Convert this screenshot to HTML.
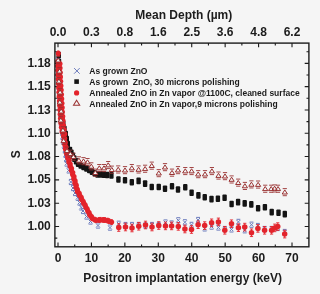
<!DOCTYPE html>
<html><head><meta charset="utf-8"><style>
html,body{margin:0;padding:0;background:#f5f5f5;}
svg{display:block;will-change:transform;}
text{font-family:"Liberation Sans",sans-serif;font-weight:bold;fill:#1c1c1c;}
</style></head><body>
<svg width="320" height="294" viewBox="0 0 320 294">
<g>
<rect width="320" height="294" fill="#f5f5f5"/>
<path d="M58 246.8V242.6M58 43.1V47.3M74.72 246.8V244.4M74.72 43.1V45.5M91.43 246.8V242.6M91.43 43.1V47.3M108.14 246.8V244.4M108.14 43.1V45.5M124.86 246.8V242.6M124.86 43.1V47.3M141.57 246.8V244.4M141.57 43.1V45.5M158.29 246.8V242.6M158.29 43.1V47.3M175 246.8V244.4M175 43.1V45.5M191.72 246.8V242.6M191.72 43.1V47.3M208.44 246.8V244.4M208.44 43.1V45.5M225.15 246.8V242.6M225.15 43.1V47.3M241.87 246.8V244.4M241.87 43.1V45.5M258.58 246.8V242.6M258.58 43.1V47.3M275.29 246.8V244.4M275.29 43.1V45.5M292.01 246.8V242.6M292.01 43.1V47.3M54.9 238.15H57.3M308.9 238.15H306.5M54.9 226.5H59.1M308.9 226.5H304.7M54.9 214.85H57.3M308.9 214.85H306.5M54.9 203.19H59.1M308.9 203.19H304.7M54.9 191.53H57.3M308.9 191.53H306.5M54.9 179.88H59.1M308.9 179.88H304.7M54.9 168.22H57.3M308.9 168.22H306.5M54.9 156.57H59.1M308.9 156.57H304.7M54.9 144.91H57.3M308.9 144.91H306.5M54.9 133.26H59.1M308.9 133.26H304.7M54.9 121.6H57.3M308.9 121.6H306.5M54.9 109.95H59.1M308.9 109.95H304.7M54.9 98.29H57.3M308.9 98.29H306.5M54.9 86.64H59.1M308.9 86.64H304.7M54.9 74.98H57.3M308.9 74.98H306.5M54.9 63.33H59.1M308.9 63.33H304.7M54.9 51.68H57.3M308.9 51.68H306.5" stroke="#1c1c1c" stroke-width="1.1" fill="none"/>
<g><path d="M56.3 54.1L60.1 57.9M56.3 57.9L60.1 54.1M56.3 53.4H60.1M56.3 58.6H60.1M56.41 58.6L60.21 62.4M56.41 62.4L60.21 58.6M56.41 57.9H60.21M56.41 63.1H60.21M56.52 63.1L60.32 66.9M56.52 66.9L60.32 63.1M56.52 62.4H60.32M56.52 67.6H60.32M56.64 67.6L60.44 71.4M56.64 71.4L60.44 67.6M56.64 66.9H60.44M56.64 72.1H60.44M56.75 72.09L60.55 75.89M56.75 75.89L60.55 72.09M56.75 71.39H60.55M56.75 76.59H60.55M56.86 76.59L60.66 80.39M56.86 80.39L60.66 76.59M56.86 75.89H60.66M56.86 81.09H60.66M56.97 81.09L60.77 84.89M56.97 84.89L60.77 81.09M56.97 80.39H60.77M56.97 85.59H60.77M57.09 85.59L60.89 89.39M57.09 89.39L60.89 85.59M57.09 84.89H60.89M57.09 90.09H60.89M57.27 90.09L61.07 93.89M57.27 93.89L61.07 90.09M57.27 89.39H61.07M57.27 94.59H61.07M57.47 94.58L61.27 98.38M57.47 98.38L61.27 94.58M57.47 93.88H61.27M57.47 99.08H61.27M57.67 99.08L61.47 102.88M57.67 102.88L61.47 99.08M57.67 98.38H61.47M57.67 103.58H61.47M57.9 103.57L61.7 107.37M57.9 107.37L61.7 103.57M57.9 102.87H61.7M57.9 108.07H61.7M58.21 108.06L62.01 111.86M58.21 111.86L62.01 108.06M58.21 107.36H62.01M58.21 112.56H62.01M58.52 112.55L62.32 116.35M58.52 116.35L62.32 112.55M58.52 111.85H62.32M58.52 117.05H62.32M58.83 117.04L62.63 120.84M58.83 120.84L62.63 117.04M58.83 116.34H62.63M58.83 121.54H62.63M59.22 121.52L63.02 125.32M59.22 125.32L63.02 121.52M59.22 120.82H63.02M59.22 126.02H63.02M59.64 126L63.44 129.8M59.64 129.8L63.44 126M59.64 125.3H63.44M59.64 130.5H63.44M60.06 130.48L63.86 134.28M60.06 134.28L63.86 130.48M60.06 129.78H63.86M60.06 134.98H63.86M60.61 134.95L64.41 138.75M60.61 138.75L64.41 134.95M60.61 134.25H64.41M60.61 139.45H64.41M61.35 139.38L65.15 143.18M61.35 143.18L65.15 139.38M61.35 138.68H65.15M61.35 143.88H65.15M62.1 143.82L65.9 147.62M62.1 147.62L65.9 143.82M62.1 143.12H65.9M62.1 148.32H65.9M62.84 148.26L66.64 152.06M62.84 152.06L66.64 148.26M62.84 147.56H66.64M62.84 152.76H66.64M63.5 152.71L67.3 156.51M63.5 156.51L67.3 152.71M63.5 152.01H67.3M63.5 157.21H67.3M64.14 157.17L67.94 160.97M64.14 160.97L67.94 157.17M64.14 156.47H67.94M64.14 161.67H67.94M64.79 161.62L68.59 165.42M64.79 165.42L68.59 161.62M64.79 160.92H68.59M64.79 166.12H68.59M66.8 168.5L70.6 172.3M66.8 172.3L70.6 168.5M66.8 167.8H70.6M66.8 173H70.6M68.9 180.1L72.7 183.9M68.9 183.9L72.7 180.1M68.9 179.4H72.7M68.9 184.6H72.7M71.1 186.1L74.9 189.9M71.1 189.9L74.9 186.1M71.1 185.4H74.9M71.1 190.6H74.9M73.1 191.1L76.9 194.9M73.1 194.9L76.9 191.1M73.1 190.4H76.9M73.1 195.6H76.9M75.8 195.8L79.6 199.6M75.8 199.6L79.6 195.8M75.8 195.1H79.6M75.8 200.3H79.6M77.6 200.6L81.4 204.4M77.6 204.4L81.4 200.6M77.6 199.9H81.4M77.6 205.1H81.4M79.3 205.5L83.1 209.3M79.3 209.3L83.1 205.5M79.3 204.8H83.1M79.3 210H83.1M81.1 209.1L84.9 212.9M81.1 212.9L84.9 209.1M81.1 208.4H84.9M81.1 213.6H84.9M84.6 214.6L88.4 218.4M84.6 218.4L88.4 214.6M84.6 213.9H88.4M84.6 219.1H88.4M88.6 219.6L92.4 223.4M88.6 223.4L92.4 219.6M88.6 218.9H92.4M88.6 224.1H92.4M96.1 223.6L99.9 227.4M96.1 227.4L99.9 223.6M96.1 222.9H99.9M96.1 228.1H99.9M108.1 225.7L111.9 229.5M108.1 229.5L111.9 225.7M108.1 225H111.9M108.1 230.2H111.9M116.85 221.85L120.65 225.65M116.85 225.65L120.65 221.85M116.85 221.15H120.65M116.85 226.35H120.65M123.6 223.1L127.4 226.9M123.6 226.9L127.4 223.1M123.6 222.4H127.4M123.6 227.6H127.4M130.1 223.1L133.9 226.9M130.1 226.9L133.9 223.1M130.1 222.4H133.9M130.1 227.6H133.9M136.85 223.1L140.65 226.9M136.85 226.9L140.65 223.1M136.85 222.4H140.65M136.85 227.6H140.65M143.6 223.6L147.4 227.4M143.6 227.4L147.4 223.6M143.6 222.9H147.4M143.6 228.1H147.4M150.1 223.1L153.9 226.9M150.1 226.9L153.9 223.1M150.1 222.4H153.9M150.1 227.6H153.9M156.85 223.1L160.65 226.9M156.85 226.9L160.65 223.1M156.85 222.4H160.65M156.85 227.6H160.65M163.6 220.6L167.4 224.4M163.6 224.4L167.4 220.6M163.6 219.9H167.4M163.6 225.1H167.4M169.7 221.6L173.5 225.4M169.7 225.4L173.5 221.6M169.7 220.9H173.5M169.7 226.1H173.5M176.4 218.4L180.2 222.2M176.4 222.2L180.2 218.4M176.4 217.7H180.2M176.4 222.9H180.2M183 220.4L186.8 224.2M183 224.2L186.8 220.4M183 219.7H186.8M183 224.9H186.8M189.6 223L193.4 226.8M189.6 226.8L193.4 223M189.6 222.3H193.4M189.6 227.5H193.4M196.2 218.1L200 221.9M196.2 221.9L200 218.1M196.2 217.4H200M196.2 222.6H200M202.8 226.5L206.6 230.3M202.8 230.3L206.6 226.5M202.8 225.8H206.6M202.8 231H206.6M209.7 224.7L213.5 228.5M209.7 228.5L213.5 224.7M209.7 224H213.5M209.7 229.2H213.5M216.5 225.6L220.3 229.4M216.5 229.4L220.3 225.6M216.5 224.9H220.3M216.5 230.1H220.3M222.9 227.1L226.7 230.9M222.9 230.9L226.7 227.1M222.9 226.4H226.7M222.9 231.6H226.7M229.6 227.5L233.4 231.3M229.6 231.3L233.4 227.5M229.6 226.8H233.4M229.6 232H233.4M236.5 220L240.3 223.8M236.5 223.8L240.3 220M236.5 219.3H240.3M236.5 224.5H240.3M242.85 228.4L246.65 232.2M242.85 232.2L246.65 228.4M242.85 227.7H246.65M242.85 232.9H246.65M249.6 222.8L253.4 226.6M249.6 226.6L253.4 222.8M249.6 222.1H253.4M249.6 227.3H253.4M256 224.1L259.8 227.9M256 227.9L259.8 224.1M256 223.4H259.8M256 228.6H259.8M262.7 227.1L266.5 230.9M262.7 230.9L266.5 227.1M262.7 226.4H266.5M262.7 231.6H266.5M269.7 227.1L273.5 230.9M269.7 230.9L273.5 227.1M269.7 226.4H273.5M269.7 231.6H273.5M275.85 226.1L279.65 229.9M275.85 229.9L279.65 226.1M275.85 225.4H279.65M275.85 230.6H279.65M282.8 230.1L286.6 233.9M282.8 233.9L286.6 230.1M282.8 229.4H286.6M282.8 234.6H286.6" stroke="#6a7abc" stroke-width="1" fill="none"/><g fill="#141414"><rect x="56.6" y="51.7" width="4.4" height="6.6" rx="1"/><rect x="56.8" y="58.7" width="4.4" height="6.6" rx="1"/><rect x="57.1" y="66.7" width="4.4" height="6.6" rx="1"/><rect x="57.5" y="74.7" width="4.4" height="6.6" rx="1"/><rect x="57.9" y="82.7" width="4.4" height="6.6" rx="1"/><rect x="58.3" y="90.7" width="4.4" height="6.6" rx="1"/><rect x="58.8" y="98.7" width="4.4" height="6.6" rx="1"/><rect x="59.4" y="106.7" width="4.4" height="6.6" rx="1"/><rect x="60.2" y="114.7" width="4.4" height="6.6" rx="1"/><rect x="61.1" y="120.7" width="4.4" height="6.6" rx="1"/><rect x="62.3" y="125.7" width="4.4" height="6.6" rx="1"/><rect x="63.6" y="130.7" width="4.4" height="6.6" rx="1"/><rect x="64.6" y="135.7" width="4.4" height="6.6" rx="1"/><rect x="65.6" y="140.7" width="4.4" height="6.6" rx="1"/><rect x="67.8" y="146.7" width="4.4" height="6.6" rx="1"/><rect x="69.23" y="149.56" width="4.4" height="6.6" rx="1"/><rect x="70.66" y="152.42" width="4.4" height="6.6" rx="1"/><rect x="72.09" y="155.29" width="4.4" height="6.6" rx="1"/><rect x="73.8" y="157.97" width="4.4" height="6.6" rx="1"/><rect x="75.79" y="160.48" width="4.4" height="6.6" rx="1"/><rect x="78.44" y="162.26" width="4.4" height="6.6" rx="1"/><rect x="81.28" y="163.74" width="4.4" height="6.6" rx="1"/><rect x="84.15" y="165.16" width="4.4" height="6.6" rx="1"/><rect x="87.02" y="166.56" width="4.4" height="6.6" rx="1"/><rect x="89.72" y="168.29" width="4.4" height="6.6" rx="1"/><rect x="92.41" y="170.01" width="4.4" height="6.6" rx="1"/><rect x="95.27" y="171.2" width="4.4" height="6.6" rx="1"/><rect x="98.47" y="171.2" width="4.4" height="6.6" rx="1"/><rect x="101.66" y="171.38" width="4.4" height="6.6" rx="1"/><rect x="104.85" y="171.68" width="4.4" height="6.6" rx="1"/><rect x="109.2" y="172.1" width="4.4" height="6.6" rx="1"/><rect x="116.2" y="176.2" width="4.4" height="6.6" rx="1"/><rect x="122.8" y="176.9" width="4.4" height="6.6" rx="1"/><rect x="129.6" y="178.9" width="4.4" height="6.6" rx="1"/><rect x="136.4" y="177.6" width="4.4" height="6.6" rx="1"/><rect x="142.9" y="180.3" width="4.4" height="6.6" rx="1"/><rect x="149.55" y="183.7" width="4.4" height="6.6" rx="1"/><rect x="156.55" y="183.7" width="4.4" height="6.6" rx="1"/><rect x="162.8" y="185.45" width="4.4" height="6.6" rx="1"/><rect x="169.8" y="182.95" width="4.4" height="6.6" rx="1"/><rect x="175.8" y="186.2" width="4.4" height="6.6" rx="1"/><rect x="183.05" y="183.9" width="4.4" height="6.6" rx="1"/><rect x="189.4" y="189.5" width="4.4" height="6.6" rx="1"/><rect x="196.2" y="192.1" width="4.4" height="6.6" rx="1"/><rect x="202.55" y="193.95" width="4.4" height="6.6" rx="1"/><rect x="209.3" y="195.8" width="4.4" height="6.6" rx="1"/><rect x="215.7" y="195.45" width="4.4" height="6.6" rx="1"/><rect x="222.4" y="194.5" width="4.4" height="6.6" rx="1"/><rect x="229.4" y="200.7" width="4.4" height="6.6" rx="1"/><rect x="235.9" y="198.8" width="4.4" height="6.6" rx="1"/><rect x="242.5" y="200.1" width="4.4" height="6.6" rx="1"/><rect x="249.1" y="201.1" width="4.4" height="6.6" rx="1"/><rect x="255.9" y="204.9" width="4.4" height="6.6" rx="1"/><rect x="262.7" y="204" width="4.4" height="6.6" rx="1"/><rect x="269.5" y="208.8" width="4.4" height="6.6" rx="1"/><rect x="276.3" y="209.5" width="4.4" height="6.6" rx="1"/><rect x="282.6" y="210.8" width="4.4" height="6.6" rx="1"/></g><path d="M58.3 51V55.8M57.2 51H59.4M57.2 55.8H59.4M57.58 59.1V63.9M56.48 59.1H58.68M56.48 63.9H58.68M60.02 61.3V66.1M58.91 61.3H61.12M58.91 66.1H61.12M57.58 63.5V68.3M56.48 63.5H58.68M56.48 68.3H58.68M60.1 65.7V70.5M59 65.7H61.2M59 70.5H61.2M57.77 67.9V72.7M56.67 67.9H58.87M56.67 72.7H58.87M60.29 70.09V74.89M59.19 70.09H61.39M59.19 74.89H61.39M57.96 72.29V77.09M56.86 72.29H59.06M56.86 77.09H59.06M60.48 74.49V79.29M59.38 74.49H61.58M59.38 79.29H61.58M58.15 76.69V81.49M57.05 76.69H59.25M57.05 81.49H59.25M60.69 78.88V83.68M59.59 78.88H61.79M59.59 83.68H61.79M58.39 81.08V85.88M57.29 81.08H59.49M57.29 85.88H59.49M60.96 83.28V88.08M59.86 83.28H62.06M59.86 88.08H62.06M58.66 85.47V90.27M57.56 85.47H59.76M57.56 90.27H59.76M61.22 87.67V92.47M60.12 87.67H62.32M60.12 92.47H62.32M58.91 89.87V94.67M57.81 89.87H60.01M57.81 94.67H60.01M61.47 92.06V96.86M60.37 92.06H62.57M60.37 96.86H62.57M59.17 94.26V99.06M58.07 94.26H60.27M58.07 99.06H60.27M61.72 96.45V101.25M60.62 96.45H62.82M60.62 101.25H62.82M59.42 98.65V103.45M58.32 98.65H60.52M58.32 103.45H60.52M61.97 100.85V105.65M60.87 100.85H63.07M60.87 105.65H63.07M59.66 103.04V107.84M58.56 103.04H60.76M58.56 107.84H60.76M62.21 105.24V110.04M61.11 105.24H63.31M61.11 110.04H63.31M59.9 107.44V112.24M58.8 107.44H61M58.8 112.24H61M62.45 109.63V114.43M61.35 109.63H63.55M61.35 114.43H63.55M60.14 111.83V116.63M59.04 111.83H61.24M59.04 116.63H61.24M62.74 114.02V118.82M61.64 114.02H63.84M61.64 118.82H63.84M60.49 116.22V121.02M59.39 116.22H61.59M59.39 121.02H61.59M63.11 118.41V123.21M62.01 118.41H64.21M62.01 123.21H64.21M60.87 120.6V125.4M59.77 120.6H61.97M59.77 125.4H61.97M63.49 122.79V127.59M62.39 122.79H64.59M62.39 127.59H64.59M61.39 124.97V129.77M60.29 124.97H62.49M60.29 129.77H62.49M64.15 127.14V131.94M63.05 127.14H65.25M63.05 131.94H65.25M62.04 129.32V134.12M60.94 129.32H63.14M60.94 134.12H63.14M64.8 131.49V136.29M63.7 131.49H65.9M63.7 136.29H65.9M63.46 133.67V138.47M62.36 133.67H64.56M62.36 138.47H64.56M64.69 135.85V140.65M63.59 135.85H65.79M63.59 140.65H65.79M64.11 138.02V142.82M63.01 138.02H65.21M63.01 142.82H65.21M65.34 140.2V145M64.24 140.2H66.44M64.24 145H66.44M64.77 142.37V147.17M63.67 142.37H65.87M63.67 147.17H65.87M65.99 144.55V149.35M64.89 144.55H67.09M64.89 149.35H67.09M65.42 146.72V151.52M64.32 146.72H66.52M64.32 151.52H66.52M66.8 148.87V153.67M65.7 148.87H67.9M65.7 153.67H67.9M66.47 150.99V155.79M65.37 150.99H67.57M65.37 155.79H67.57M67.95 153.11V157.91M66.85 153.11H69.05M66.85 157.91H69.05M67.63 155.24V160.04M66.53 155.24H68.73M66.53 160.04H68.73M69.11 157.36V162.16M68.01 157.36H70.21M68.01 162.16H70.21M68.78 159.48V164.28M67.68 159.48H69.88M67.68 164.28H69.88M70.27 161.6V166.4M69.17 161.6H71.37M69.17 166.4H71.37M70 163.71V168.51M68.9 163.71H71.1M68.9 168.51H71.1M71.53 165.82V170.62M70.43 165.82H72.63M70.43 170.62H72.63M71.26 167.93V172.73M70.16 167.93H72.36M70.16 172.73H72.36M72.79 170.03V174.83M71.69 170.03H73.89M71.69 174.83H73.89M72.52 172.14V176.94M71.42 172.14H73.62M71.42 176.94H73.62M74.05 174.25V179.05M72.95 174.25H75.15M72.95 179.05H75.15M73.71 176.38V181.18M72.61 176.38H74.81M72.61 181.18H74.81M75.17 178.5V183.3M74.07 178.5H76.27M74.07 183.3H76.27M74.83 180.63V185.43M73.73 180.63H75.93M73.73 185.43H75.93M76.28 182.76V187.56M75.18 182.76H77.38M75.18 187.56H77.38M75.94 184.89V189.69M74.84 184.89H77.04M74.84 189.69H77.04M77.4 187.02V191.82M76.3 187.02H78.5M76.3 191.82H78.5M77.37 189.03V193.83M76.27 189.03H78.47M76.27 193.83H78.47M79.27 190.99V195.79M78.17 190.99H80.37M78.17 195.79H80.37M79.36 192.95V197.75M78.26 192.95H80.46M78.26 197.75H80.46M81.25 194.91V199.71M80.15 194.91H82.35M80.15 199.71H82.35M81.39 196.86V201.66M80.29 196.86H82.49M80.29 201.66H82.49M83.15 198.79V203.59M82.05 198.79H84.25M82.05 203.59H84.25M83.65 200.73V205.53M82.55 200.73H84.75M82.55 205.53H84.75M85.23 202.67V207.47M84.13 202.67H86.33M84.13 207.47H86.33M85.73 204.61V209.41M84.63 204.61H86.83M84.63 209.41H86.83M87.26 206.58V211.38M86.16 206.58H88.36M86.16 211.38H88.36M87.7 208.54V213.34M86.6 208.54H88.8M86.6 213.34H88.8M89.23 210.51V215.31M88.13 210.51H90.33M88.13 215.31H90.33M89.67 212.48V217.28M88.57 212.48H90.77M88.57 217.28H90.77M91.51 214.25V219.05M90.41 214.25H92.61M90.41 219.05H92.61M92.29 216.01V220.81M91.19 216.01H93.39M91.19 220.81H93.39M94.61 217.18V221.98M93.51 217.18H95.71M93.51 221.98H95.71M96.12 217.85V222.65M95.02 217.85H97.22M95.02 222.65H97.22M98.84 217.58V222.38M97.74 217.58H99.94M97.74 222.38H99.94M100.49 217.43V222.23M99.39 217.43H101.59M99.39 222.23H101.59M103.23 217.52V222.32M102.13 217.52H104.33M102.13 222.32H104.33M104.88 217.64V222.44M103.78 217.64H105.98M103.78 222.44H105.98M107.56 218.17V222.97M106.46 218.17H108.66M106.46 222.97H108.66M109.13 218.78V223.58M108.03 218.78H110.23M108.03 223.58H110.23M111.67 219.7V224.5M110.57 219.7H112.77M110.57 224.5H112.77" stroke="#e3232b" stroke-width="0.9" fill="none"/><g fill="#e3232b"><circle cx="58.3" cy="53.4" r="2.55"/><circle cx="57.58" cy="61.5" r="2.55"/><circle cx="60.02" cy="63.7" r="2.55"/><circle cx="57.58" cy="65.9" r="2.55"/><circle cx="60.1" cy="68.1" r="2.55"/><circle cx="57.77" cy="70.3" r="2.55"/><circle cx="60.29" cy="72.49" r="2.55"/><circle cx="57.96" cy="74.69" r="2.55"/><circle cx="60.48" cy="76.89" r="2.55"/><circle cx="58.15" cy="79.09" r="2.55"/><circle cx="60.69" cy="81.28" r="2.55"/><circle cx="58.39" cy="83.48" r="2.55"/><circle cx="60.96" cy="85.68" r="2.55"/><circle cx="58.66" cy="87.87" r="2.55"/><circle cx="61.22" cy="90.07" r="2.55"/><circle cx="58.91" cy="92.27" r="2.55"/><circle cx="61.47" cy="94.46" r="2.55"/><circle cx="59.17" cy="96.66" r="2.55"/><circle cx="61.72" cy="98.85" r="2.55"/><circle cx="59.42" cy="101.05" r="2.55"/><circle cx="61.97" cy="103.25" r="2.55"/><circle cx="59.66" cy="105.44" r="2.55"/><circle cx="62.21" cy="107.64" r="2.55"/><circle cx="59.9" cy="109.84" r="2.55"/><circle cx="62.45" cy="112.03" r="2.55"/><circle cx="60.14" cy="114.23" r="2.55"/><circle cx="62.74" cy="116.42" r="2.55"/><circle cx="60.49" cy="118.62" r="2.55"/><circle cx="63.11" cy="120.81" r="2.55"/><circle cx="60.87" cy="123" r="2.55"/><circle cx="63.49" cy="125.19" r="2.55"/><circle cx="61.39" cy="127.37" r="2.55"/><circle cx="64.15" cy="129.54" r="2.55"/><circle cx="62.04" cy="131.72" r="2.55"/><circle cx="64.8" cy="133.89" r="2.55"/><circle cx="63.46" cy="136.07" r="2.55"/><circle cx="64.69" cy="138.25" r="2.55"/><circle cx="64.11" cy="140.42" r="2.55"/><circle cx="65.34" cy="142.6" r="2.55"/><circle cx="64.77" cy="144.77" r="2.55"/><circle cx="65.99" cy="146.95" r="2.55"/><circle cx="65.42" cy="149.12" r="2.55"/><circle cx="66.8" cy="151.27" r="2.55"/><circle cx="66.47" cy="153.39" r="2.55"/><circle cx="67.95" cy="155.51" r="2.55"/><circle cx="67.63" cy="157.64" r="2.55"/><circle cx="69.11" cy="159.76" r="2.55"/><circle cx="68.78" cy="161.88" r="2.55"/><circle cx="70.27" cy="164" r="2.55"/><circle cx="70" cy="166.11" r="2.55"/><circle cx="71.53" cy="168.22" r="2.55"/><circle cx="71.26" cy="170.33" r="2.55"/><circle cx="72.79" cy="172.43" r="2.55"/><circle cx="72.52" cy="174.54" r="2.55"/><circle cx="74.05" cy="176.65" r="2.55"/><circle cx="73.71" cy="178.78" r="2.55"/><circle cx="75.17" cy="180.9" r="2.55"/><circle cx="74.83" cy="183.03" r="2.55"/><circle cx="76.28" cy="185.16" r="2.55"/><circle cx="75.94" cy="187.29" r="2.55"/><circle cx="77.4" cy="189.42" r="2.55"/><circle cx="77.37" cy="191.43" r="2.55"/><circle cx="79.27" cy="193.39" r="2.55"/><circle cx="79.36" cy="195.35" r="2.55"/><circle cx="81.25" cy="197.31" r="2.55"/><circle cx="81.39" cy="199.26" r="2.55"/><circle cx="83.15" cy="201.19" r="2.55"/><circle cx="83.65" cy="203.13" r="2.55"/><circle cx="85.23" cy="205.07" r="2.55"/><circle cx="85.73" cy="207.01" r="2.55"/><circle cx="87.26" cy="208.98" r="2.55"/><circle cx="87.7" cy="210.94" r="2.55"/><circle cx="89.23" cy="212.91" r="2.55"/><circle cx="89.67" cy="214.88" r="2.55"/><circle cx="91.51" cy="216.65" r="2.55"/><circle cx="92.29" cy="218.41" r="2.55"/><circle cx="94.61" cy="219.58" r="2.55"/><circle cx="96.12" cy="220.25" r="2.55"/><circle cx="98.84" cy="219.98" r="2.55"/><circle cx="100.49" cy="219.83" r="2.55"/><circle cx="103.23" cy="219.92" r="2.55"/><circle cx="104.88" cy="220.04" r="2.55"/><circle cx="107.56" cy="220.57" r="2.55"/><circle cx="109.13" cy="221.18" r="2.55"/><circle cx="111.67" cy="222.1" r="2.55"/></g><path d="M118.75 223.7V231.3M117.15 223.7H120.35M117.15 231.3H120.35M125.5 223.2V230.8M123.9 223.2H127.1M123.9 230.8H127.1M132 224.2V231.8M130.4 224.2H133.6M130.4 231.8H133.6M138.75 222.45V230.05M137.15 222.45H140.35M137.15 230.05H140.35M145.5 221.2V228.8M143.9 221.2H147.1M143.9 228.8H147.1M152 223.2V230.8M150.4 223.2H153.6M150.4 230.8H153.6M158.75 221.7V229.3M157.15 221.7H160.35M157.15 229.3H160.35M165.5 222.1V229.7M163.9 222.1H167.1M163.9 229.7H167.1M171.6 222.1V229.7M170 222.1H173.2M170 229.7H173.2M178.3 222.6V230.2M176.7 222.6H179.9M176.7 230.2H179.9M184.9 225.2V232.8M183.3 225.2H186.5M183.3 232.8H186.5M191.5 225.7V233.3M189.9 225.7H193.1M189.9 233.3H193.1M198.1 220.9V228.5M196.5 220.9H199.7M196.5 228.5H199.7M204.7 221.8V229.4M203.1 221.8H206.3M203.1 229.4H206.3M211.6 219V226.6M210 219H213.2M210 226.6H213.2M218.4 218.1V225.7M216.8 218.1H220M216.8 225.7H220M224.8 226.5V234.1M223.2 226.5H226.4M223.2 234.1H226.4M231.5 219.95V227.55M229.9 219.95H233.1M229.9 227.55H233.1M238.4 223.9V231.5M236.8 223.9H240M236.8 231.5H240M244.75 223.3V230.9M243.15 223.3H246.35M243.15 230.9H246.35M251.5 228.95V236.55M249.9 228.95H253.1M249.9 236.55H253.1M257.9 224.6V232.2M256.3 224.6H259.5M256.3 232.2H259.5M264.6 226.5V234.1M263 226.5H266.2M263 234.1H266.2M271.6 226.5V234.1M270 226.5H273.2M270 234.1H273.2M274.75 224.1V231.7M273.15 224.1H276.35M273.15 231.7H276.35M277.75 222.8V230.4M276.15 222.8H279.35M276.15 230.4H279.35M284.7 230.3V237.9M283.1 230.3H286.3M283.1 237.9H286.3" stroke="#e3232b" stroke-width="0.9" fill="none"/><g fill="#e3232b"><circle cx="118.75" cy="227.5" r="2.75"/><circle cx="125.5" cy="227" r="2.75"/><circle cx="132" cy="228" r="2.75"/><circle cx="138.75" cy="226.25" r="2.75"/><circle cx="145.5" cy="225" r="2.75"/><circle cx="152" cy="227" r="2.75"/><circle cx="158.75" cy="225.5" r="2.75"/><circle cx="165.5" cy="225.9" r="2.75"/><circle cx="171.6" cy="225.9" r="2.75"/><circle cx="178.3" cy="226.4" r="2.75"/><circle cx="184.9" cy="229" r="2.75"/><circle cx="191.5" cy="229.5" r="2.75"/><circle cx="198.1" cy="224.7" r="2.75"/><circle cx="204.7" cy="225.6" r="2.75"/><circle cx="211.6" cy="222.8" r="2.75"/><circle cx="218.4" cy="221.9" r="2.75"/><circle cx="224.8" cy="230.3" r="2.75"/><circle cx="231.5" cy="223.75" r="2.75"/><circle cx="238.4" cy="227.7" r="2.75"/><circle cx="244.75" cy="227.1" r="2.75"/><circle cx="251.5" cy="232.75" r="2.75"/><circle cx="257.9" cy="228.4" r="2.75"/><circle cx="264.6" cy="230.3" r="2.75"/><circle cx="271.6" cy="230.3" r="2.75"/><circle cx="274.75" cy="227.9" r="2.75"/><circle cx="277.75" cy="226.6" r="2.75"/><circle cx="284.7" cy="234.1" r="2.75"/></g><path d="M56.1 56.6H60.3M56.1 63.7H60.3M57.4 67.6H61.6M57.4 74.7H61.6M56.8 77.6H61M56.8 84.7H61M58 88.6H62.2M58 95.7H62.2M57.7 98.6H61.9M57.7 105.7H61.9M59.1 107.6H63.3M59.1 114.7H63.3M58.7 116.6H62.9M58.7 123.7H62.9M60.8 126.6H65M60.8 133.7H65M61.5 137.2H65.7M61.5 144.3H65.7M64.9 147.1H69.1M64.9 154.2H69.1M68.2 150.2H72.4M68.2 157.3H72.4M71.3 153.2H75.5M71.3 160.3H75.5M76.8 156.8H81M76.8 163.9H81M81.4 157.6H85.6M81.4 164.7H85.6M85.4 158.5H89.6M85.4 165.6H89.6M89.2 162.8H93.4M89.2 169.9H93.4M93.2 169.1H97.4M93.2 176.2H97.4M97.2 164.5H101.4M97.2 171.6H101.4M101.9 164.5H106.1M101.9 171.6H106.1M106.1 161.5H110.3M106.1 168.6H110.3M109.7 166.1H113.9M109.7 173.2H113.9M116.1 165.9H120.3M116.1 173H120.3M122.9 166.6H127.1M122.9 173.7H127.1M129.7 164.5H133.9M129.7 171.6H133.9M136.5 165.9H140.7M136.5 173H140.7M143 165.2H147.2M143 172.3H147.2M149.65 162.1H153.85M149.65 169.2H153.85M156.65 169.6H160.85M156.65 176.7H160.85M162.9 163.6H167.1M162.9 170.7H167.1M169.9 169.1H174.1M169.9 176.2H174.1M175.9 166.6H180.1M175.9 173.7H180.1M183.15 167.5H187.35M183.15 174.6H187.35M189.5 167.5H193.7M189.5 174.6H193.7M196.1 170.6H200.3M196.1 177.7H200.3M202.9 170.6H207.1M202.9 177.7H207.1M209.8 167.5H214M209.8 174.6H214M216.4 172H220.6M216.4 179.1H220.6M222.9 172.6H227.1M222.9 179.7H227.1M229.5 175.9H233.7M229.5 183H233.7M236.1 179.1H240.3M236.1 186.2H240.3M242.8 182.4H247M242.8 189.5H247M249.3 180.85H253.5M249.3 187.95H253.5M256 181H260.2M256 188.1H260.2M263.1 185.2H267.3M263.1 192.3H267.3M269.1 185.2H273.3M269.1 192.3H273.3M272.5 184.9H276.7M272.5 192H276.7M275.9 185.2H280.1M275.9 192.3H280.1M282.7 188.6H286.9M282.7 195.7H286.9" stroke="#9a3232" stroke-width="0.9" fill="none"/><path d="M58.2 57.9L60.8 62L55.6 62ZM59.5 68.9L62.1 73L56.9 73ZM58.9 78.9L61.5 83L56.3 83ZM60.1 89.9L62.7 94L57.5 94ZM59.8 99.9L62.4 104L57.2 104ZM61.2 108.9L63.8 113L58.6 113ZM60.8 117.9L63.4 122L58.2 122ZM62.9 127.9L65.5 132L60.3 132ZM63.6 138.5L66.2 142.6L61 142.6ZM67 148.4L69.6 152.5L64.4 152.5ZM70.3 151.5L72.9 155.6L67.7 155.6ZM73.4 154.5L76 158.6L70.8 158.6ZM78.9 158.1L81.5 162.2L76.3 162.2ZM83.5 158.9L86.1 163L80.9 163ZM87.5 159.8L90.1 163.9L84.9 163.9ZM91.3 164.1L93.9 168.2L88.7 168.2ZM95.3 170.4L97.9 174.5L92.7 174.5ZM99.3 165.8L101.9 169.9L96.7 169.9ZM104 165.8L106.6 169.9L101.4 169.9ZM108.2 162.8L110.8 166.9L105.6 166.9ZM111.8 167.4L114.4 171.5L109.2 171.5ZM118.2 167.2L120.8 171.3L115.6 171.3ZM125 167.9L127.6 172L122.4 172ZM131.8 165.8L134.4 169.9L129.2 169.9ZM138.6 167.2L141.2 171.3L136 171.3ZM145.1 166.5L147.7 170.6L142.5 170.6ZM151.75 163.4L154.35 167.5L149.15 167.5ZM158.75 170.9L161.35 175L156.15 175ZM165 164.9L167.6 169L162.4 169ZM172 170.4L174.6 174.5L169.4 174.5ZM178 167.9L180.6 172L175.4 172ZM185.25 168.8L187.85 172.9L182.65 172.9ZM191.6 168.8L194.2 172.9L189 172.9ZM198.2 171.9L200.8 176L195.6 176ZM205 171.9L207.6 176L202.4 176ZM211.9 168.8L214.5 172.9L209.3 172.9ZM218.5 173.3L221.1 177.4L215.9 177.4ZM225 173.9L227.6 178L222.4 178ZM231.6 177.2L234.2 181.3L229 181.3ZM238.2 180.4L240.8 184.5L235.6 184.5ZM244.9 183.7L247.5 187.8L242.3 187.8ZM251.4 182.15L254 186.25L248.8 186.25ZM258.1 182.3L260.7 186.4L255.5 186.4ZM265.2 186.5L267.8 190.6L262.6 190.6ZM271.2 186.5L273.8 190.6L268.6 190.6ZM274.6 186.2L277.2 190.3L272 190.3ZM278 186.5L280.6 190.6L275.4 190.6ZM284.8 189.9L287.4 194L282.2 194Z" stroke="#9a3232" stroke-width="1" fill="#f5f5f5" stroke-linejoin="miter"/></g>
<rect x="54.9" y="43.1" width="254" height="203.7" fill="none" stroke="#1c1c1c" stroke-width="1.4"/>
<g font-size="12"><text x="58" y="261.5" text-anchor="middle">0</text><text x="91.43" y="261.5" text-anchor="middle">10</text><text x="124.86" y="261.5" text-anchor="middle">20</text><text x="158.29" y="261.5" text-anchor="middle">30</text><text x="191.72" y="261.5" text-anchor="middle">40</text><text x="225.15" y="261.5" text-anchor="middle">50</text><text x="258.58" y="261.5" text-anchor="middle">60</text><text x="292.01" y="261.5" text-anchor="middle">70</text><text x="58" y="35.7" text-anchor="middle">0.0</text><text x="91.43" y="35.7" text-anchor="middle">0.3</text><text x="124.86" y="35.7" text-anchor="middle">0.8</text><text x="158.29" y="35.7" text-anchor="middle">1.6</text><text x="191.72" y="35.7" text-anchor="middle">2.5</text><text x="225.15" y="35.7" text-anchor="middle">3.6</text><text x="258.58" y="35.7" text-anchor="middle">4.8</text><text x="292.01" y="35.7" text-anchor="middle">6.2</text><text x="50.8" y="230.1" text-anchor="end">1.00</text><text x="50.8" y="206.79" text-anchor="end">1.03</text><text x="50.8" y="183.48" text-anchor="end">1.05</text><text x="50.8" y="160.17" text-anchor="end">1.08</text><text x="50.8" y="136.86" text-anchor="end">1.10</text><text x="50.8" y="113.55" text-anchor="end">1.13</text><text x="50.8" y="90.24" text-anchor="end">1.15</text><text x="50.8" y="66.93" text-anchor="end">1.18</text></g>
<text x="183.8" y="18.9" font-size="12" text-anchor="middle">Mean Depth (&#181;m)</text>
<text x="83.3" y="281.6" font-size="12">Positron implantation energy (keV)</text>
<text transform="translate(19.7,154.3) rotate(-90)" font-size="12" text-anchor="middle">S</text>
<path d="M74.1 68.1L79.7 73.7M74.1 73.7L79.7 68.1" stroke="#6a7abc" stroke-width="1"/><rect x="74.3" y="79.3" width="4.6" height="4.6" fill="#141414"/><circle cx="76.6" cy="92.9" r="2.6" fill="#e3232b"/><path d="M76.6 100.3L79.7 105.3H73.5Z" stroke="#9a3232" stroke-width="1.05" fill="none"/><text x="89.3" y="73.9" font-size="8.53">As grown ZnO</text><text x="89.3" y="84.6" font-size="8.53">As grown&#160; ZnO, 30 microns polishing</text><text x="89.3" y="95.8" font-size="8.53">Annealed ZnO in Zn vapor @1100C, cleaned surface</text><text x="89.3" y="106.5" font-size="8.53">Annealed ZnO in Zn vapor,9 microns polishing</text>
</g>
</svg>
</body></html>
